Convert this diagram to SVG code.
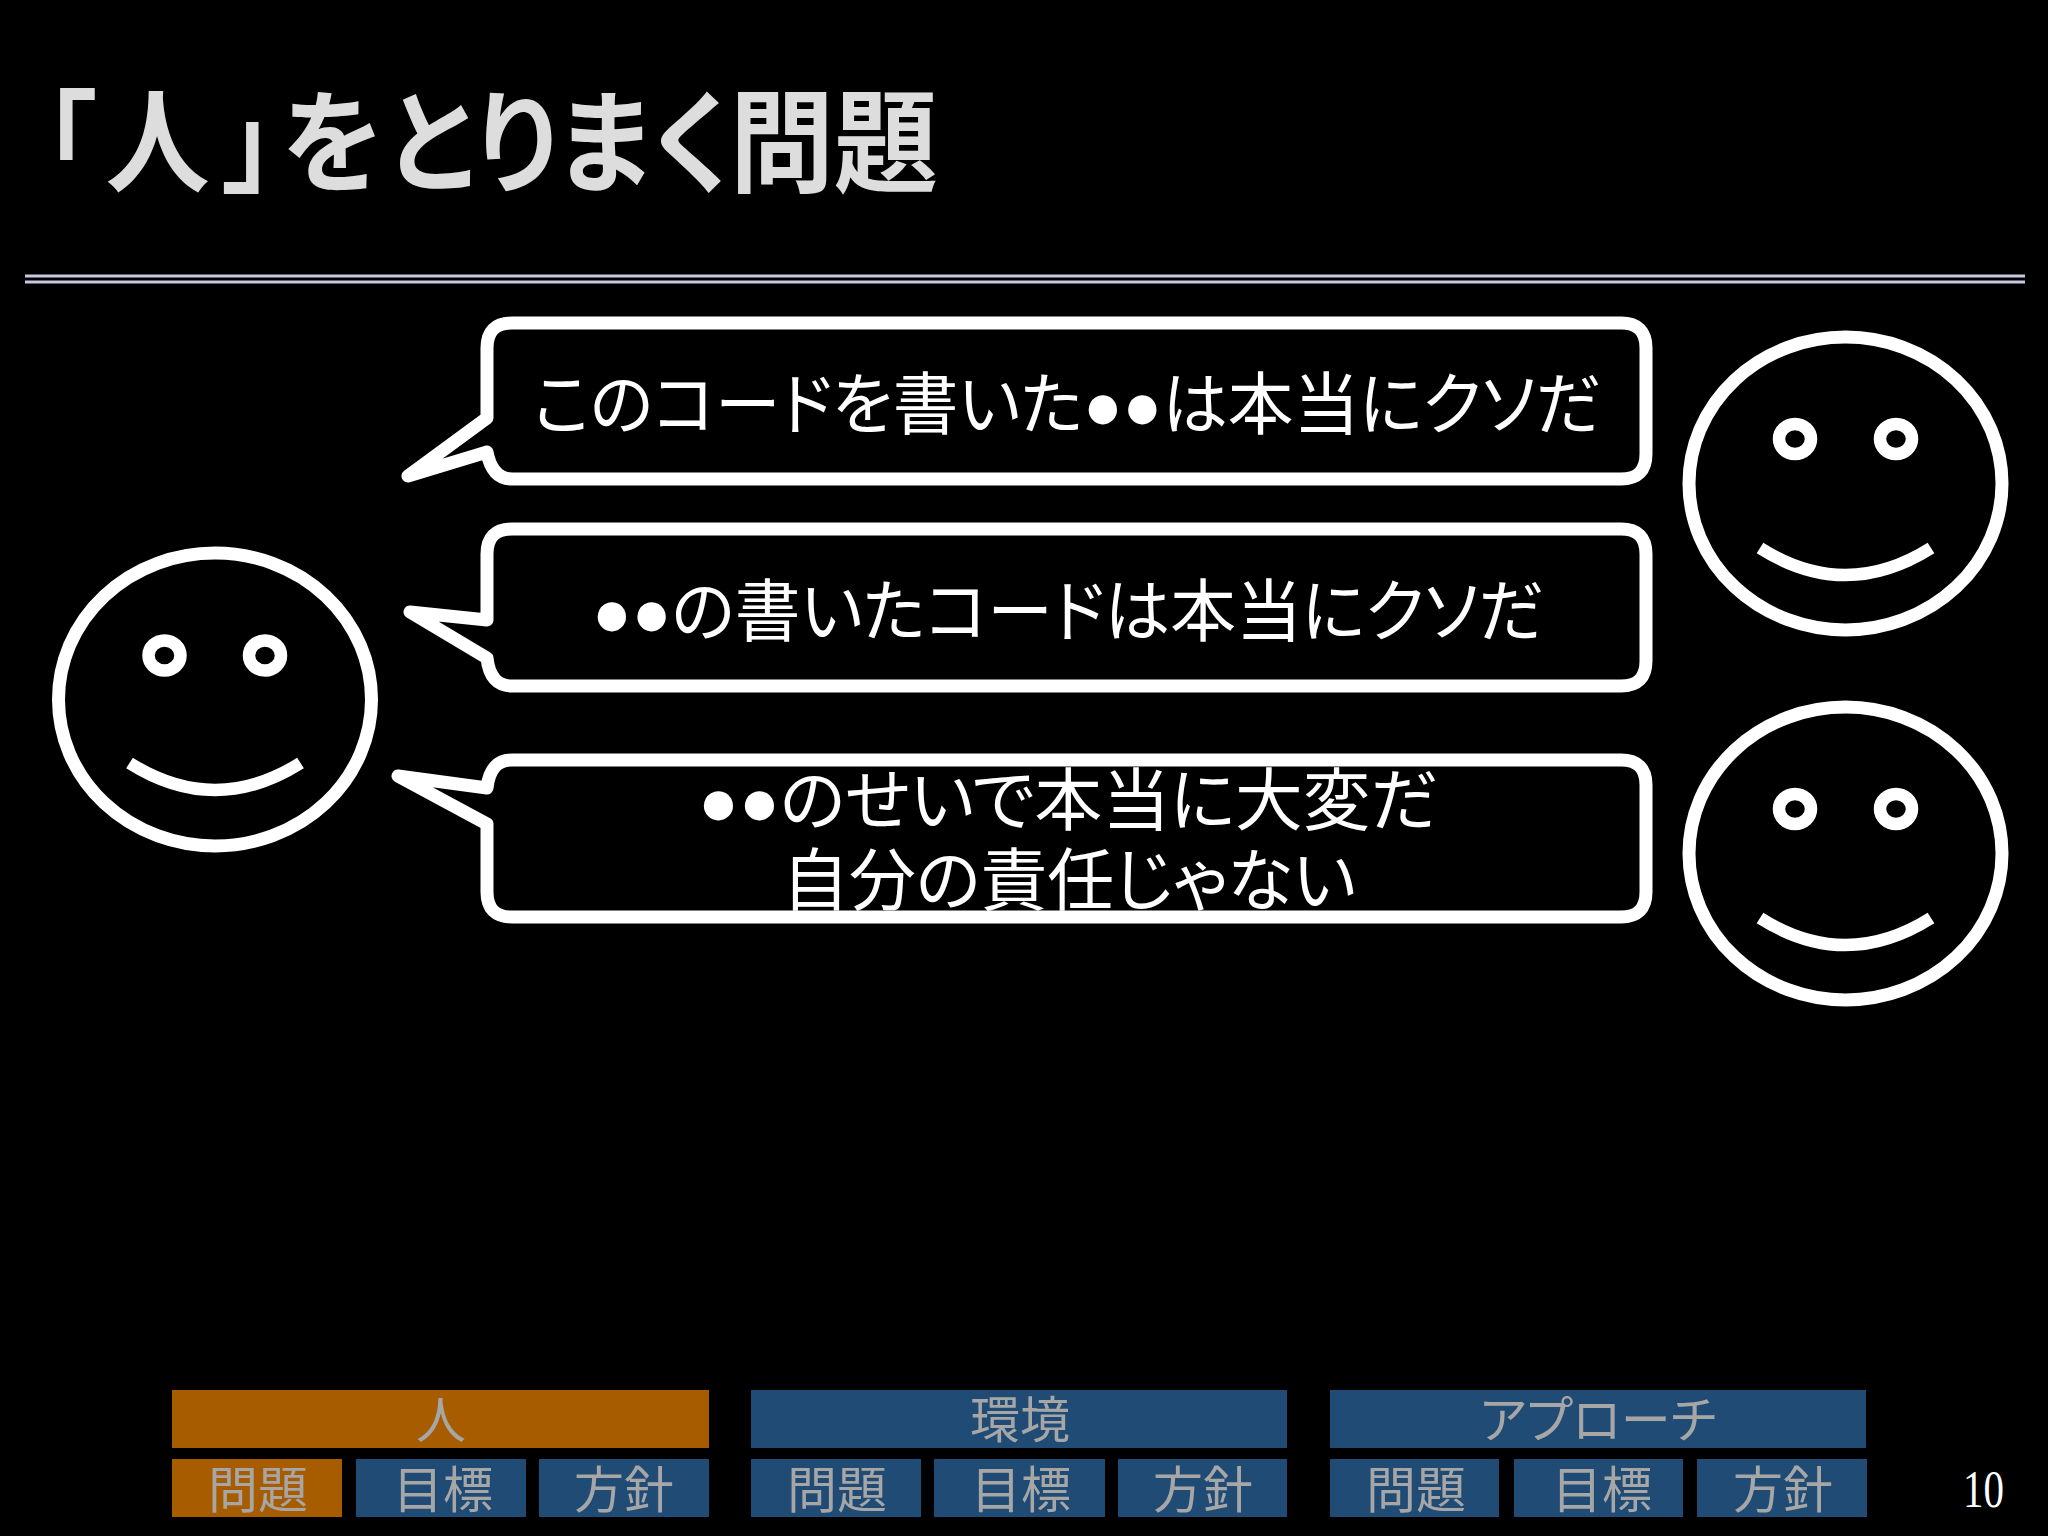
<svg xmlns="http://www.w3.org/2000/svg" width="2048" height="1536" viewBox="0 0 2048 1536">
<style>
text{font-family:"Noto Sans CJK JP","Liberation Sans",sans-serif;font-feature-settings:"palt"}
.title{font-size:112px;font-weight:700;fill:#dddddd}
text.say{font-family:"Liberation Sans","Noto Sans CJK JP",sans-serif;font-size:68px;fill:#fff}
.bubble{fill:#000;stroke:#fff;stroke-width:13;stroke-linejoin:round}
.rule{fill:#c8c8e0}
.or{fill:#a85c00}.bl{fill:#1f4b74}
.lab{font-size:50px;fill:#a6a6a6;text-anchor:middle}
.face{fill:none;stroke:#fff;stroke-width:13}
.mouth{fill:none;stroke:#fff;stroke-width:12.5}
.eye{fill:none;stroke:#fff;stroke-width:12.5}
</style>
<rect width="2048" height="1536" fill="#000"/>
<g id="title"><text class="title" x="44" y="184" dx="0 10 14 8 6 2 0 0 0 0" textLength="894" lengthAdjust="spacingAndGlyphs">「人」をとりまく問題</text></g>
<g id="rule"><rect class="rule" x="25" y="274.5" width="2000" height="3"/><rect class="rule" x="25" y="280.5" width="2000" height="3"/></g>
<g id="bubble1"><path class="bubble" d="M512,323H1621Q1646,323 1646,348V454Q1646,479 1621,479H512Q492,479 487,452L408,476L487,418V348Q487,323 512,323Z"/>
<text class="say" x="533" y="429" textLength="1069" lengthAdjust="spacingAndGlyphs">このコードを書いた●●は本当にクソだ</text></g>
<g id="bubble2"><path class="bubble" d="M512,529H1621Q1646,529 1646,554V661Q1646,686 1621,686H512Q490,686 487,658L410,612L487,620V554Q487,529 512,529Z"/>
<text class="say" x="592" y="636" textLength="953" lengthAdjust="spacingAndGlyphs">●●の書いたコードは本当にクソだ</text></g>
<g id="bubble3"><path class="bubble" d="M512,760H1621Q1646,760 1646,785V892Q1646,917 1621,917H512Q487,917 487,892V824L398,776L487,788Q490,760 512,760Z"/>
<text class="say" x="698" y="825" textLength="741" lengthAdjust="spacingAndGlyphs">●●のせいで本当に大変だ</text>
<text class="say" x="782" y="905" textLength="574" lengthAdjust="spacingAndGlyphs">自分の責任じゃない</text></g>
<g id="face-left"><ellipse class="face" cx="215" cy="699.5" rx="156.5" ry="146.5"/><ellipse class="eye" cx="164.5" cy="655.5" rx="16" ry="15"/><ellipse class="eye" cx="265" cy="655.5" rx="16" ry="15"/><path class="mouth" d="M129.5,763Q215,817 300.5,763"/></g>
<g id="face-top"><ellipse class="face" cx="1845.5" cy="483.5" rx="156.5" ry="146.5"/><ellipse class="eye" cx="1795" cy="439" rx="16" ry="15"/><ellipse class="eye" cx="1896" cy="439" rx="16" ry="15"/><path class="mouth" d="M1760,548Q1845.5,602 1931,548"/></g>
<g id="face-bottom"><ellipse class="face" cx="1845.5" cy="853.5" rx="156.5" ry="146.5"/><ellipse class="eye" cx="1795" cy="809" rx="16" ry="15"/><ellipse class="eye" cx="1896" cy="809" rx="16" ry="15"/><path class="mouth" d="M1760,918Q1845.5,972 1931,918"/></g>
<g id="nav">
<g id="nav-people"><rect class="or" x="172" y="1390" width="537" height="58"/><text class="lab" x="441" y="1438">人</text>
<rect class="or" x="172" y="1459" width="170" height="58"/><text class="lab" x="258" y="1508">問題</text>
<rect class="bl" x="356" y="1459" width="170" height="58"/><text class="lab" x="443" y="1508">目標</text>
<rect class="bl" x="539" y="1459" width="170" height="58"/><text class="lab" x="624" y="1508">方針</text></g>
<g id="nav-env"><rect class="bl" x="751" y="1390" width="536" height="58"/><text class="lab" x="1020" y="1438">環境</text>
<rect class="bl" x="751" y="1459" width="170" height="58"/><text class="lab" x="837" y="1508">問題</text>
<rect class="bl" x="934" y="1459" width="171" height="58"/><text class="lab" x="1021" y="1508">目標</text>
<rect class="bl" x="1118" y="1459" width="169" height="58"/><text class="lab" x="1203" y="1508">方針</text></g>
<g id="nav-approach"><rect class="bl" x="1330" y="1390" width="536" height="58"/><text class="lab" x="1598" y="1438">アプローチ</text>
<rect class="bl" x="1330" y="1459" width="169" height="58"/><text class="lab" x="1416" y="1508">問題</text>
<rect class="bl" x="1514" y="1459" width="169" height="58"/><text class="lab" x="1602" y="1508">目標</text>
<rect class="bl" x="1697" y="1459" width="170" height="58"/><text class="lab" x="1783" y="1508">方針</text></g>
</g>
<text id="page" x="1963" y="1507" font-size="52" fill="#fff" style="font-family:'Liberation Serif',serif" textLength="41" lengthAdjust="spacingAndGlyphs">10</text>
</svg>
